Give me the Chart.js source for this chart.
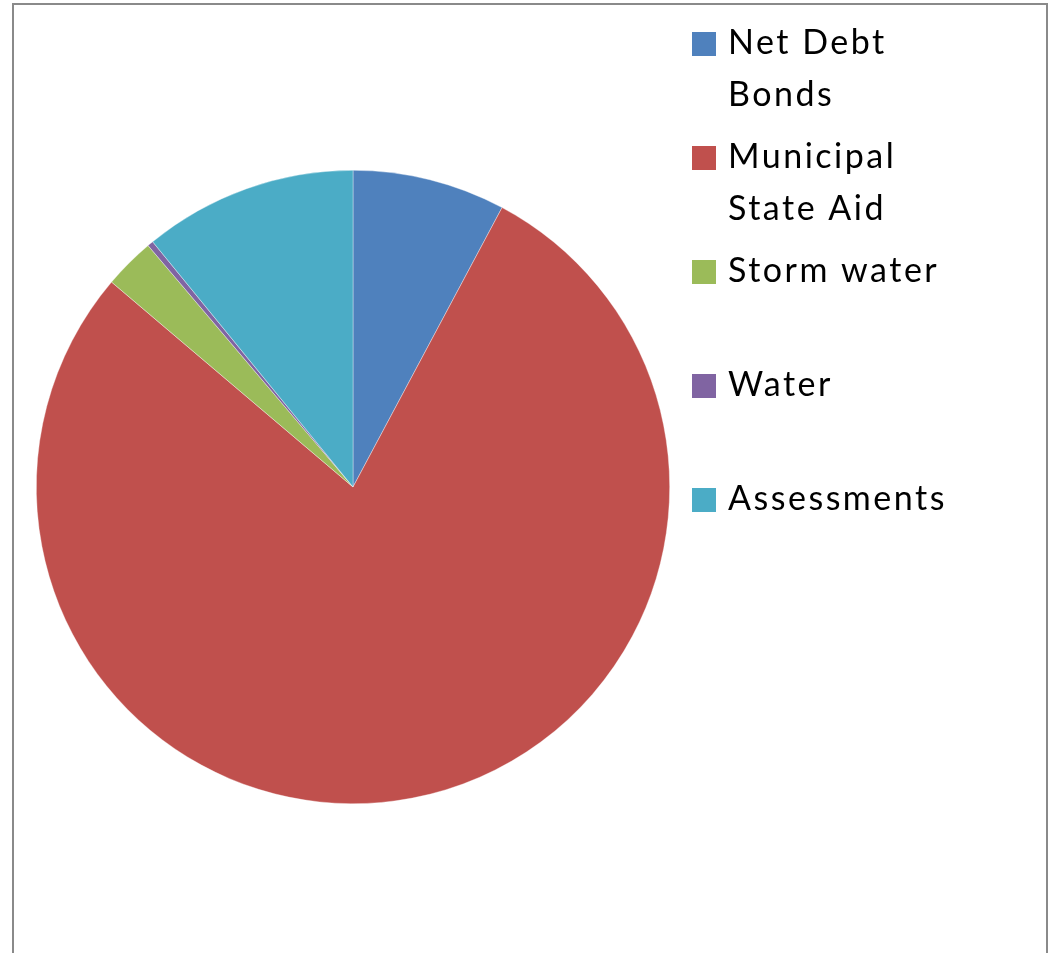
<!DOCTYPE html>
<html>
<head>
<meta charset="utf-8">
<script src="https://cdn.jsdelivr.net/npm/chart.js@4.4.1/dist/chart.umd.min.js"></script>
<style>
  html, body { margin: 0; padding: 0; background: #fff; overflow: hidden; }
  #frame {
    position: absolute; left: 12px; top: 3px;
    width: 1032px; height: 1000px;
    border: 2px solid #8a8a8a;
  }
  #wrap { position: absolute; left: 0; top: 0; width: 1051px; height: 953px; }
</style>
</head>
<body>
<div id="frame"></div>
<div id="wrap"><canvas id="pieChart"></canvas></div>
<script>
// categories (legend wraps them the same way the original does)
const categories = [["Net Debt", "Bonds"], ["Municipal", "State Aid"], "Storm water", "Water", "Assessments"];
// share of each slice, percent
const shares = [7.8, 78.4, 2.6, 0.3, 10.9];
const sliceColors = ["#4F81BD", "#C0504D", "#9BBB59", "#8064A2", "#4BACC6"];

// draws the legend on the right like the office chart does
const sideLegend = {
    id: "sideLegend",
    afterDraw(chart) {
        const ctx = chart.ctx;
        const labels = chart.data.labels;
        const colors = chart.data.datasets[0].backgroundColor;
        ctx.save();
        ctx.font = "34px Lato";
        ctx.letterSpacing = "2.5px";
        ctx.textBaseline = "alphabetic";
        labels.forEach((lab, i) => {
            const top = 32 + i * 114;
            ctx.fillStyle = colors[i];
            ctx.fillRect(692, top, 24, 24);
            ctx.fillStyle = "#000";
            const lines = Array.isArray(lab) ? lab : [lab];
            lines.forEach((ln, j) => {
                ctx.fillText(ln, 728, top + 22 + j * 52);
            });
        });
        ctx.restore();
    }
};

document.addEventListener("DOMContentLoaded", function () {
    const canvas = document.getElementById("pieChart");
    new Chart(canvas.getContext("2d"), {
        type: "pie",
        data: {
            labels: categories,
            datasets: [{
                data: shares,
                backgroundColor: sliceColors,
                borderColor: "rgba(255,255,255,0.6)",
                borderWidth: 0.6
            }]
        },
        options: {
            responsive: true,
            maintainAspectRatio: false,
            animation: false,
            layout: {
                padding: { left: 36, right: 381, top: 170, bottom: 149 }
            },
            plugins: {
                legend: { display: false },
                tooltip: { enabled: false }
            }
        },
        plugins: [sideLegend]
    });
});
</script>
</body>
</html>
